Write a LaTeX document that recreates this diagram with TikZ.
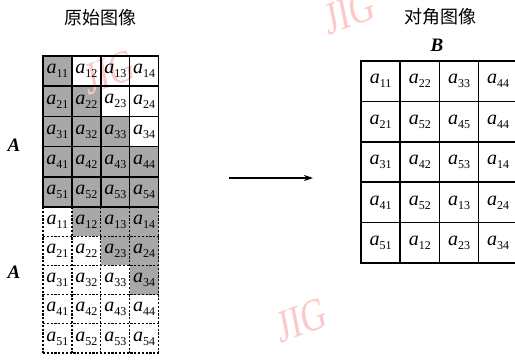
\documentclass[tikz,border=0pt]{standalone}
\usepackage{fontspec}
\setmainfont{Liberation Serif}
\newfontfamily\cjk{Noto Sans CJK SC}
\usetikzlibrary{arrows.meta}
\definecolor{cellgray}{HTML}{A8A8A8}
\definecolor{wmpink}{HTML}{FCC8C8}
\newcommand{\ael}[1]{\fontsize{20}{20}\selectfont\textit{a}\raisebox{-4pt}{\fontsize{12}{12}\selectfont #1}}
\begin{document}
\begin{tikzpicture}[x=1pt,y=-1pt,
  cell/.style={inner sep=0pt, anchor=center},
  solidgrid/.style={line width=1.5pt, black},
  dotgrid/.style={line width=1.3pt, black, dash pattern=on 2.2pt off 1.6pt},
  title/.style={font=\cjk\fontsize{18}{18}\selectfont, anchor=center},
  mlabel/.style={font=\fontsize{19}{19}\selectfont\bfseries\itshape, anchor=center},
  wm/.style={text=wmpink, font=\fontsize{46}{46}\selectfont, xscale=0.75, rotate=15, anchor=center}]
\useasboundingbox (0,0) rectangle (515,361);
% geometry
\def\tx{43}\def\tw{28.9}\def\ty{56}\def\th{30.2}
\def\by{207}\def\bh{29.2}
\def\rx{361}\def\rw{39.2}\def\ry{61}\def\rh{40.4}
% shaded cells
\foreach \r in {1,...,5}{\foreach \c in {1,...,4}{
  \ifnum\c>\r\relax
    \fill[cellgray] ({\tx+(\c-1)*\tw},{\by+(\r-1)*\bh}) rectangle ({\tx+\c*\tw},{\by+\r*\bh});
  \else
    \fill[cellgray] ({\tx+(\c-1)*\tw},{\ty+(\r-1)*\th}) rectangle ({\tx+\c*\tw},{\ty+\r*\th});
  \fi}}
% watermarks
\node[wm] (wm1) at (110,72) {JIG};
\node[wm] (wm2) at (350,12) {JIG};
\node[wm] (wm3) at (302,320) {JIG};
% top grid (solid)
\foreach \c in {0,...,4}{\draw[solidgrid] ({\tx+\c*\tw},\ty) -- ({\tx+\c*\tw},{\ty+5*\th});}
\foreach \r in {0,...,5}{\draw[solidgrid] ({\tx-0.75},{\ty+\r*\th}) -- ({\tx+4*\tw+0.75},{\ty+\r*\th});}
% bottom grid (dotted)
\foreach \c in {0,...,4}{\draw[dotgrid] ({\tx+\c*\tw},\by) -- ({\tx+\c*\tw},{\by+5*\bh});}
\foreach \r in {1,...,5}{\draw[dotgrid] ({\tx},{\by+\r*\bh}) -- ({\tx+4*\tw},{\by+\r*\bh});}
% cell texts
\foreach \r in {1,...,5}{\foreach \c in {1,...,4}{
  \node[cell] (t\r\c) at ({\tx+(\c-0.5)*\tw},{\ty+(\r-0.5)*\th}) {\ael{\r\c}};
  \node[cell] (b\r\c) at ({\tx+(\c-0.5)*\tw},{\by+(\r-0.5)*\bh}) {\ael{\r\c}};
}}
% right grid
\foreach \c in {0,...,4}{\draw[solidgrid] ({\rx+\c*\rw},\ry) -- ({\rx+\c*\rw},{\ry+5*\rh});}
\foreach \r in {0,...,5}{\draw[solidgrid] ({\rx-0.75},{\ry+\r*\rh}) -- ({\rx+4*\rw+0.75},{\ry+\r*\rh});}
\foreach \r/\lst in {1/{11,22,33,44},2/{21,52,45,44},3/{31,42,53,14},4/{41,52,13,24},5/{51,12,23,34}}{
  \foreach \v [count=\c] in \lst{
    \node[cell] (r\r\c) at ({\rx+(\c-0.5)*\rw},{\ry+(\r-0.5)*\rh}) {\ael{\v}};
  }}
% titles and labels
\node[title] (t1) at (100,18) {原始图像};
\node[title] (t2) at (440,17) {对角图像};
\node[mlabel] (lb) at (437,45) {B};
\node[mlabel] (la1) at (14,145) {A};
\node[mlabel] (la2) at (14,272) {A};
% arrow
\coordinate (as) at (229,178);
\coordinate (ae) at (313,178);
\draw[line width=1.5pt, -{Stealth[length=9pt,width=6pt]}] (as) -- (ae);
\end{tikzpicture}
\end{document}
